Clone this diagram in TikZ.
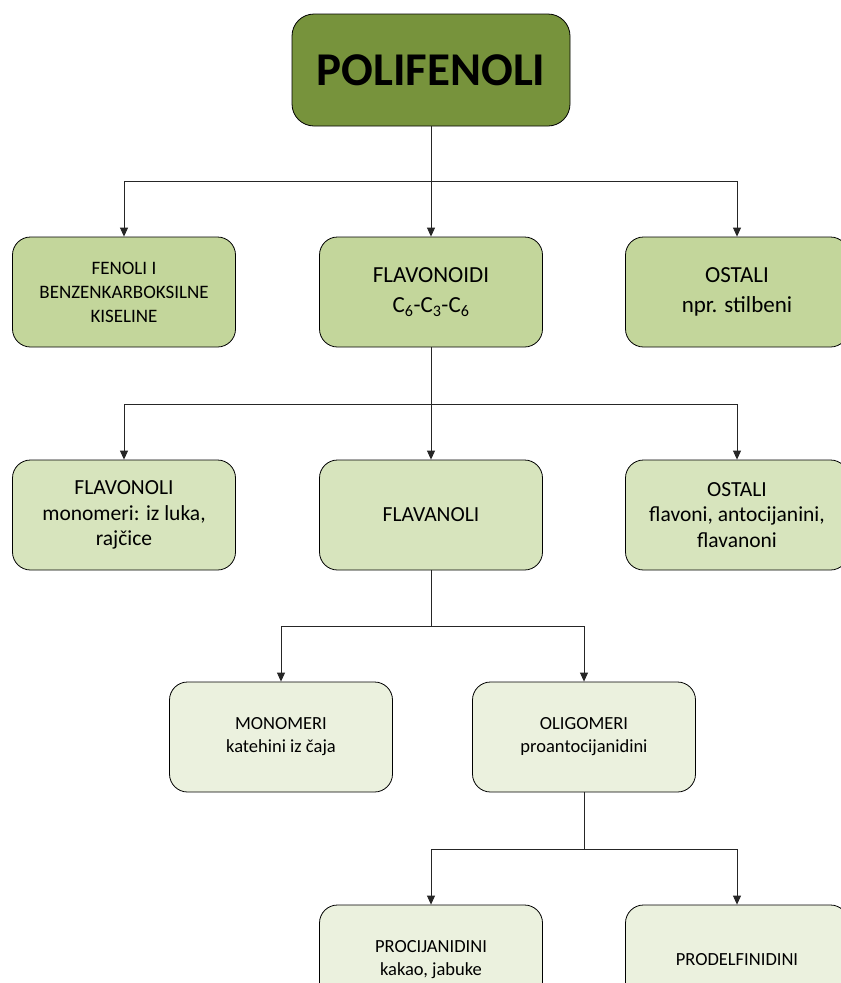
\documentclass[tikz,border=0pt]{standalone}
\usepackage{fontspec}
\setmainfont{Carlito}
\usetikzlibrary{arrows.meta}
\definecolor{olivetop}{HTML}{77933C}
\definecolor{greena}{HTML}{C3D69B}
\definecolor{greenb}{HTML}{D7E4BD}
\definecolor{greenc}{HTML}{EBF1DE}
\definecolor{linegray}{HTML}{262626}
\begin{document}
\begin{tikzpicture}[x=1pt,y=-1pt,
  box/.style={rectangle,rounded corners=18pt,draw=black,line width=.8pt,minimum width=223pt,minimum height=110pt,align=center},
  lvla/.style={box,fill=greena,font=\fontsize{23}{30}\selectfont},
  lvlb/.style={box,fill=greenb,font=\fontsize{21.5}{25.5}\selectfont},
  lvlc/.style={box,fill=greenc,font=\fontsize{18.5}{23}\selectfont},
  link/.style={draw=linegray,line width=.9pt,-{Triangle[length=9pt,width=8pt]}},
  trunk/.style={draw=linegray,line width=.9pt}]
\useasboundingbox (0,0) rectangle (841,983);
\clip (0,0) rectangle (841,983);
\draw (431,70) node[box,fill=olivetop,minimum width=278pt,minimum height=112pt,rounded corners=22pt,font=\fontsize{47}{50}\selectfont\bfseries] (poli) {POLIFENOLI};
% first level
\draw (124,292) node[lvla,font=\fontsize{19}{24}\selectfont] (fen) {FENOLI I\\BENZENKARBOKSILNE\\KISELINE};
\draw (431,292) node[lvla] (flav) {FLAVONOIDI\\C\textsubscript{6}-C\textsubscript{3}-C\textsubscript{6}};
\draw (737,292) node[lvla] (ost) {OSTALI\\npr. stilbeni};
\coordinate (j1) at (431,181);
\draw[trunk] (poli) -- (j1);
\draw[link] (j1) -| (fen);
\draw[link] (j1) -- (flav);
\draw[link] (j1) -| (ost);
% second level
\draw (124,515) node[lvlb] (fnol) {FLAVONOLI\\monomeri: iz luka,\\rajčice};
\draw (431,515) node[lvlb] (fnal) {FLAVANOLI};
\draw (737,515) node[lvlb] (ostb) {OSTALI\\flavoni, antocijanini,\\flavanoni};
\coordinate (j2) at (431,404);
\draw[trunk] (flav) -- (j2);
\draw[link] (j2) -| (fnol);
\draw[link] (j2) -- (fnal);
\draw[link] (j2) -| (ostb);
% third level
\draw (281,737) node[lvlc] (mono) {MONOMERI\\katehini iz čaja};
\draw (584,737) node[lvlc] (oligo) {OLIGOMERI\\proantocijanidini};
\coordinate (j3) at (431,626);
\draw[trunk] (fnal) -- (j3);
\draw[link] (j3) -| (mono);
\draw[link] (j3) -| (oligo);
% fourth level
\draw (431,960) node[lvlc] (proc) {PROCIJANIDINI\\kakao, jabuke};
\draw (737,960) node[lvlc] (prod) {PRODELFINIDINI};
\coordinate (j4) at (584,849);
\draw[trunk] (oligo) -- (j4);
\draw[link] (j4) -| (proc);
\draw[link] (j4) -| (prod);
\end{tikzpicture}
\end{document}
